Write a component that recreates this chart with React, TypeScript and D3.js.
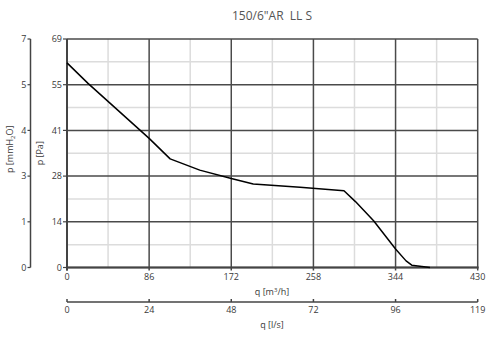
import React from "react";
import * as d3 from "d3";

const title = "150/6\"AR\u00a0\u00a0LL S";
const flowM3h = [0, 22, 86, 108, 139, 172, 195, 244, 290, 302, 321, 344, 355, 361, 380];
const pressurePa = [61.8, 55.6, 39.0, 32.8, 29.4, 26.9, 25.2, 24.2, 23.2, 19.9, 14.1, 5.6, 2.0, 0.7, 0];
const xTicksM3h = [0, 86, 172, 258, 344, 430];
const xTicksLs = ["0", "24", "48", "72", "96", "119"];
const yTicksPa = ["0", "14", "28", "41", "55", "69"];
const yTicksMm = ["0", "1", "3", "4", "5", "7"];

const W = 504, H = 340;
const L = 67, R = 477.7, T = 39, B = 267.5;
const PMAX = 69;
const XMAX = 430;

export default function App() {
  const x = d3.scaleLinear().domain([0, XMAX]).range([L, R]);
  const y = d3.scaleLinear().domain([0, PMAX]).range([B, T]);
  const yIdx = d3.scaleLinear().domain([0, 5]).range([B, T]);
  const xIdx = d3.scaleLinear().domain([0, 5]).range([L, R]);
  const pts: [number, number][] = flowM3h.map((q, i) => [q, pressurePa[i]]);
  const line = d3.line<[number, number]>().x(d => x(d[0])).y(d => y(d[1]));
  const font = "'Open Sans', sans-serif";
  const txt = "#3a3a3a";
  const minorX = d3.range(0, 5).map(i => xIdx(i + 0.5));
  const minorY = d3.range(0, 5).map(i => yIdx(i + 0.5));
  const mmX = 30.5;
  const ax2 = 302;
  return (
    <svg width={W} height={H} style={{ position: "absolute", left: 0, top: 0, background: "#fff" }} fontFamily={font}>
      <text x={272} y={20} textAnchor="middle" fontSize={12} fill="#555">{title}</text>
      {/* minor grid */}
      {minorX.map((v, i) => <line key={"mx" + i} x1={v} x2={v} y1={T} y2={B} stroke="#dcdcdc" strokeWidth={1.5} />)}
      {minorY.map((v, i) => <line key={"my" + i} x1={L} x2={R} y1={v} y2={v} stroke="#dcdcdc" strokeWidth={1.5} />)}
      {/* major grid */}
      {xTicksM3h.map((t, i) => <line key={"gx" + i} x1={x(t)} x2={x(t)} y1={T} y2={B} stroke="#4a4a4a" strokeWidth={1.5} />)}
      {yTicksPa.map((t, i) => <line key={"gy" + i} x1={L} x2={R} y1={yIdx(i)} y2={yIdx(i)} stroke="#4a4a4a" strokeWidth={1.5} />)}
      <line x1={L} x2={L} y1={T} y2={B + 3} stroke="#444" strokeWidth={2} />
      <line x1={L - 1} x2={R + 1} y1={B} y2={B} stroke="#444" strokeWidth={2} />
      {/* curve */}
      <path d={line(pts) || ""} fill="none" stroke="#000" strokeWidth={1.5} strokeLinejoin="round" />
      {/* Pa axis */}
      {yTicksPa.map((t, i) => (
        <g key={"pa" + i}>
          <line x1={L - 4} x2={L} y1={yIdx(i)} y2={yIdx(i)} stroke="#444" strokeWidth={1.2} />
          <text x={L - 5} y={yIdx(i)} dy="0.35em" textAnchor="end" fontSize={9} fill={txt}>{t}</text>
        </g>
      ))}
      <text transform={`translate(43,${(T + B) / 2}) rotate(-90)`} textAnchor="middle" fontSize={9} fill={txt}>p [Pa]</text>
      {/* mmH2O axis */}
      <line x1={mmX} x2={mmX} y1={T} y2={B} stroke="#444" strokeWidth={1.5} />
      {yTicksMm.map((t, i) => (
        <g key={"mm" + i}>
          <line x1={mmX - 3} x2={mmX} y1={yIdx(i)} y2={yIdx(i)} stroke="#444" strokeWidth={1.2} />
          <text x={mmX - 4} y={yIdx(i)} dy="0.35em" textAnchor="end" fontSize={9} fill={txt}>{t}</text>
        </g>
      ))}
      <text transform={`translate(13,${(T + B) / 2 - 4}) rotate(-90)`} textAnchor="middle" fontSize={9} fill={txt}>
        p [mmH<tspan fontSize={6} dy="2">2</tspan><tspan dy="-2">O]</tspan>
      </text>
      {/* m3/h axis */}
      {xTicksM3h.map((t, i) => (
        <g key={"xm" + i}>
          <line x1={x(t)} x2={x(t)} y1={B} y2={B + 3} stroke="#444" strokeWidth={1.5} />
          <text x={x(t)} y={B + 9} dy="0.35em" textAnchor="middle" fontSize={9} fill={txt}>{t}</text>
        </g>
      ))}
      <text x={272} y={292} dy="0.35em" textAnchor="middle" fontSize={9} fill={txt}>
        q [m<tspan fontSize={6} dy="-3">3</tspan><tspan dy="3">/h]</tspan>
      </text>
      {/* l/s axis */}
      <line x1={L} x2={R} y1={ax2} y2={ax2} stroke="#444" strokeWidth={1.5} />
      {xTicksLs.map((t, i) => (
        <g key={"xl" + i}>
          <line x1={xIdx(i)} x2={xIdx(i)} y1={ax2 - 3} y2={ax2} stroke="#444" strokeWidth={1.5} />
          <text x={xIdx(i)} y={ax2 + 8} dy="0.35em" textAnchor="middle" fontSize={9} fill={txt}>{t}</text>
        </g>
      ))}
      <text x={272} y={325} dy="0.35em" textAnchor="middle" fontSize={9} fill={txt}>q [l/s]</text>
    </svg>
  );
}
